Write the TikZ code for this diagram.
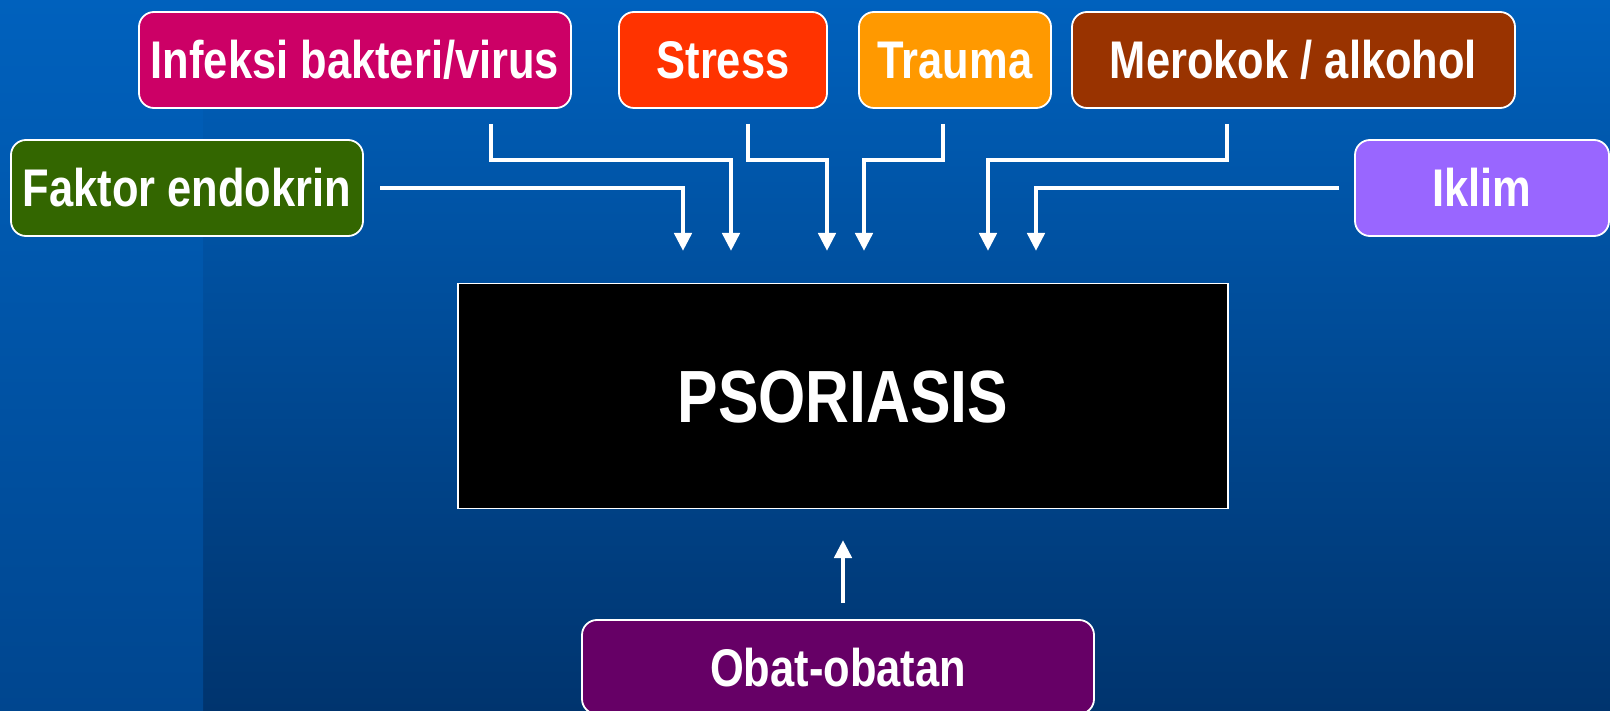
\documentclass[tikz,border=0pt]{standalone}
\usepackage{fontspec}
\setmainfont{Liberation Sans}[FakeStretch=0.82]
\usetikzlibrary{arrows.meta}
\definecolor{bgtop}{RGB}{0,97,189}
\definecolor{bgbot}{RGB}{0,52,110}
\definecolor{stripbot}{RGB}{0,70,143}
\definecolor{cinf}{HTML}{CC0066}
\definecolor{cstr}{HTML}{FF3300}
\definecolor{ctra}{HTML}{FF9900}
\definecolor{cmer}{HTML}{993300}
\definecolor{cfak}{HTML}{336600}
\definecolor{cikl}{HTML}{9966FF}
\definecolor{coba}{HTML}{660066}
\tikzset{
  factor/.style={draw=white, line width=1.8pt, rounded corners=15pt, text=white,
    font=\fontsize{53}{60}\selectfont\bfseries, minimum height=96pt,
    text height=38pt, text depth=0pt, inner sep=0pt},
  mainbox/.style={draw=white, line width=1.8pt, fill=black, text=white,
    font=\fontsize{74}{80}\selectfont\bfseries, text height=53pt, text depth=0pt,
    minimum width=770pt, minimum height=225pt, inner sep=0pt},
  arr/.style={draw=white, line width=4.5pt, -{Triangle[width=17pt,length=18pt]}},
}
\begin{document}
\begin{tikzpicture}[x=1pt,y=-1pt]
\useasboundingbox (0,0) rectangle (1610,711);
\shade[top color=bgtop, bottom color=bgbot] (203,0) rectangle (1610,711);
\shade[top color=bgtop, bottom color=stripbot] (0,0) rectangle (203,711);

\node[factor, fill=cinf, minimum width=432pt] (inf) at (355,60) {Infeksi bakteri/virus};
\node[factor, fill=cstr, minimum width=208pt] (str) at (723,60) {Stress};
\node[factor, fill=ctra, minimum width=192pt] (tra) at (955,60) {Trauma};
\node[factor, fill=cmer, minimum width=443pt] (mer) at (1293.5,60) {Merokok / alkohol};
\node[factor, fill=cfak, minimum width=352pt] (fak) at (187,188) {Faktor endokrin};
\node[factor, fill=cikl, minimum width=254pt] (ikl) at (1482,188) {Iklim};
\node[mainbox] (pso) at (843,396) {PSORIASIS};
\node[factor, fill=coba, minimum width=512pt, minimum height=94pt] (oba) at (838,667) {Obat-obatan};

\coordinate (infS) at (491,124);
\coordinate (strS) at (748,124);
\coordinate (traS) at (943,124);
\coordinate (merS) at (1227,124);
\coordinate (fakS) at (380,188);
\coordinate (iklS) at (1339,188);
\coordinate (obaS) at (843,603);
\coordinate (t1) at (683,251);
\coordinate (t2) at (731,251);
\coordinate (t3) at (827,251);
\coordinate (t4) at (864,251);
\coordinate (t5) at (988,251);
\coordinate (t6) at (1036,251);
\coordinate (t7) at (843,540);

\draw[arr] (fakS) -| (t1);
\draw[arr] (infS) -- ++(0,36) -| (t2);
\draw[arr] (strS) -- ++(0,36) -| (t3);
\draw[arr] (traS) -- ++(0,36) -| (t4);
\draw[arr] (merS) -- ++(0,36) -| (t5);
\draw[arr] (iklS) -| (t6);
\draw[arr] (obaS) -- (t7);
\end{tikzpicture}
\end{document}
